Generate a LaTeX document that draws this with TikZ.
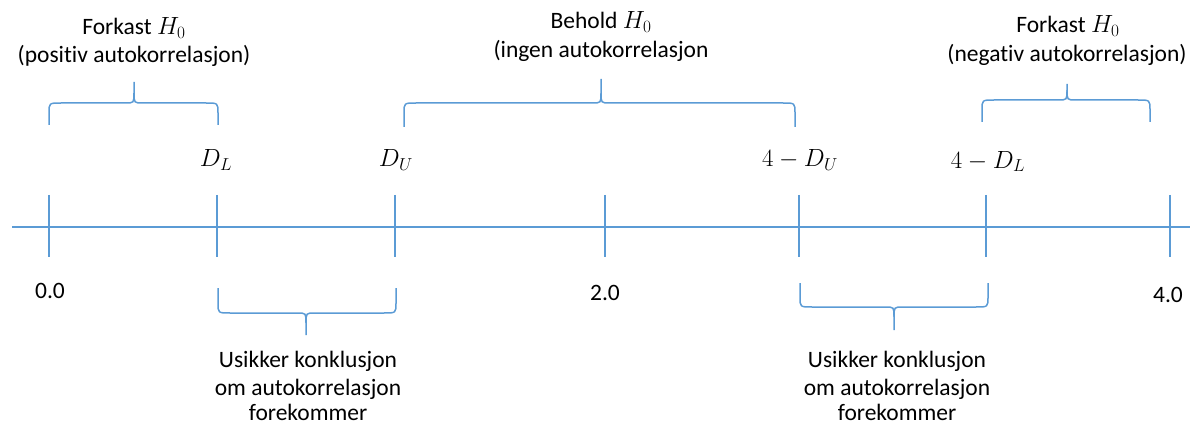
\documentclass[tikz,border=0pt]{standalone}
\usepackage{fontspec}
\setmainfont{Carlito}[Ligatures={NoCommon}]
\definecolor{axblue}{RGB}{91,155,213}
\tikzset{
  axis/.style={draw=axblue,line width=1.6pt},
  brc/.style={draw=axblue,line width=1.5pt},
  lbl/.style={anchor=base,inner sep=0pt,font=\fontsize{23.5}{28}\selectfont},
  mlbl/.style={anchor=base,inner sep=0pt,font=\fontsize{23.5}{28}\selectfont}
}
% brace: #1 left x, #2 right x, #3 tip x, #4 end y, #5 horizontal y, #6 tip y, #7 signed radius
\newcommand\curlybr[7]{%
  \draw[brc] (#1,#4) -- (#1,{#5+#7}) .. controls (#1,#5) .. ({#1+12},#5) -- ({#3-9},#5) .. controls (#3,#5) .. (#3,{#5-#7}) -- (#3,#6);
  \draw[brc] (#3,{#5-#7}) .. controls (#3,#5) .. ({#3+9},#5) -- ({#2-12},#5) .. controls (#2,#5) .. (#2,{#5+#7}) -- (#2,#4);
}
\begin{document}
\begin{tikzpicture}[x=1pt,y=-1pt]
\useasboundingbox (0,0) rectangle (1195,425);
% axis
\coordinate (ax0) at (12,227);
\coordinate (ax1) at (1190,227);
\draw[axis] (ax0) -- (ax1);
\foreach \n/\x in {t0/49,tL/217,tU/395,t2/605,tUU/799,tLL/986,t4/1170}{
  \coordinate (\n top) at (\x,195);
  \coordinate (\n bot) at (\x,257);
  \draw[axis] (\n top) -- (\n bot);
}
% numbers
\node[lbl] (n0) at (50,298) {0.0};
\node[lbl] (n2) at (605,300) {2.0};
\node[lbl] (n4) at (1168,302) {4.0};
% D labels
\node[lbl] (dL) at (216,167) {$D_L$};
\node[lbl] (dU) at (396,167) {$D_U$};
\node[lbl] (dUU) at (800,167) {$4-D_U$};
\node[lbl] (dLL) at (988,168) {$4-D_L$};
% top braces
\curlybr{49}{218}{134}{125}{103}{82}{10}
\curlybr{404}{795}{601}{127}{103}{79}{10}
\curlybr{982}{1150}{1067}{122}{100}{84}{10}
% bottom braces
\curlybr{218}{396}{306}{288}{313}{335}{-10}
\curlybr{800}{988}{894}{283}{307}{330}{-10}
% top texts
\node[mlbl] (f1a) at (134,35) {Forkast $H_0$};
\node[mlbl] (f1b) at (134,63) {(positiv autokorrelasjon)};
\node[mlbl] (b1a) at (601,29) {Behold $H_0$};
\node[mlbl] (b1b) at (601,58) {(ingen autokorrelasjon};
\node[mlbl] (f2a) at (1068,33) {Forkast $H_0$};
\node[mlbl] (f2b) at (1067,62) {(negativ autokorrelasjon)};
% bottom texts
\node[mlbl] (u1a) at (308,367) {Usikker konklusjon};
\node[mlbl] (u1b) at (308,395) {om autokorrelasjon};
\node[mlbl] (u1c) at (308,420) {forekommer};
\node[mlbl] (u2a) at (897,367) {Usikker konklusjon};
\node[mlbl] (u2b) at (897,395) {om autokorrelasjon};
\node[mlbl] (u2c) at (897,420) {forekommer};
\end{tikzpicture}
\end{document}
